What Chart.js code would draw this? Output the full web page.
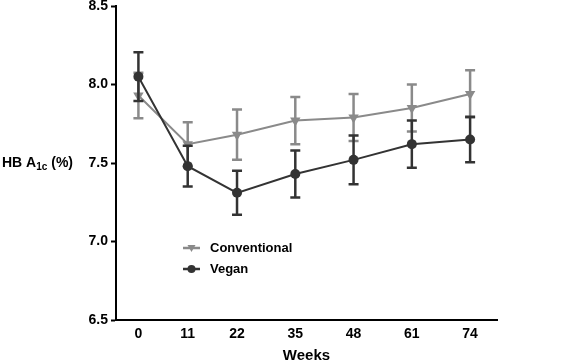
<!DOCTYPE html>
<html>
<head>
<meta charset="utf-8">
<script src="https://cdn.jsdelivr.net/npm/chart.js@4"></script>
<style>
  html, body { margin: 0; padding: 0; background: #fff; }
  canvas { display: block; }
</style>
</head>
<body>
<canvas id="hbChart" width="565" height="363"></canvas>
<script>
// weeks since start
const weeks = [0, 11, 22, 35, 48, 61, 74];
const conventional = [7.93, 7.62, 7.68, 7.77, 7.79, 7.85, 7.94];
const conventionalErr = [0.145, 0.14, 0.16, 0.15, 0.15, 0.15, 0.15];
const vegan = [8.05, 7.48, 7.31, 7.43, 7.52, 7.62, 7.65];
const veganErr = [0.155, 0.13, 0.14, 0.15, 0.155, 0.15, 0.145];
const yTicks = [6.5, 7.0, 7.5, 8.0, 8.5];

const GRAY = '#8a8a8a';
const DARK = '#333333';
const FONT = 'Arial, "Liberation Sans", sans-serif';

function toPoints(vals) {
  return weeks.map((w, i) => ({ x: w, y: vals[i] }));
}

// vertical error bars with caps, drawn under the markers
const errorBars = {
  id: 'errorBars',
  beforeDatasetDraw(chart, args) {
    const ds = chart.data.datasets[args.index];
    if (!ds.errors) return;
    const ctx = chart.ctx;
    const xs = chart.scales.x, ys = chart.scales.y;
    ctx.save();
    ctx.strokeStyle = ds.borderColor;
    ctx.lineWidth = 2.5;
    ds.data.forEach((p, i) => {
      const x = xs.getPixelForValue(p.x);
      const yt = ys.getPixelForValue(p.y + ds.errors[i]);
      const yb = ys.getPixelForValue(p.y - ds.errors[i]);
      ctx.beginPath();
      ctx.moveTo(x, yt); ctx.lineTo(x, yb);
      ctx.moveTo(x - 5, yt); ctx.lineTo(x + 5, yt);
      ctx.moveTo(x - 5, yb); ctx.lineTo(x + 5, yb);
      ctx.stroke();
    });
    ctx.restore();
  }
};

// y axis title with subscript, plus legend inside the plot
const extras = {
  id: 'extras',
  afterDraw(chart) {
    const ctx = chart.ctx;
    const a = chart.chartArea;
    ctx.save();
    ctx.fillStyle = '#000';
    ctx.textBaseline = 'alphabetic';
    let x = 2;
    const base = (a.top + a.bottom) / 2 + 4;
    ctx.font = 'bold 14px ' + FONT;
    ctx.fillText('HB A', x, base);
    x += ctx.measureText('HB A').width;
    ctx.font = 'bold 10px ' + FONT;
    ctx.fillText('1c', x, base + 3);
    x += ctx.measureText('1c').width;
    ctx.font = 'bold 14px ' + FONT;
    ctx.fillText(' (%)', x, base);

    // legend
    const items = chart.data.datasets.slice().sort((p, q) => p.legendRank - q.legendRank);
    ctx.font = 'bold 13px ' + FONT;
    ctx.textBaseline = 'middle';
    items.forEach((ds, i) => {
      const lx = a.left + 67;
      const ly = a.top + 242 + i * 21;
      ctx.strokeStyle = ds.borderColor;
      ctx.lineWidth = 2.5;
      ctx.beginPath();
      ctx.moveTo(lx, ly); ctx.lineTo(lx + 17, ly);
      ctx.stroke();
      ctx.fillStyle = ds.borderColor;
      ctx.beginPath();
      if (ds.pointStyle === 'circle') {
        ctx.arc(lx + 8.5, ly, 4, 0, Math.PI * 2);
      } else {
        ctx.moveTo(lx + 4.5, ly - 3);
        ctx.lineTo(lx + 12.5, ly - 3);
        ctx.lineTo(lx + 8.5, ly + 4);
        ctx.closePath();
      }
      ctx.fill();
      ctx.fillStyle = '#000';
      ctx.fillText(ds.label, lx + 27, ly);
    });
    ctx.restore();
  }
};

new Chart(document.getElementById('hbChart').getContext('2d'), {
  type: 'line',
  data: {
    datasets: [
      {
        label: 'Vegan',
        data: toPoints(vegan),
        errors: veganErr,
        legendRank: 1,
        borderColor: DARK,
        backgroundColor: DARK,
        borderWidth: 2,
        pointStyle: 'circle',
        pointRadius: 5,
        pointBorderWidth: 0,
        tension: 0,
        order: 0
      },
      {
        label: 'Conventional',
        data: toPoints(conventional),
        errors: conventionalErr,
        legendRank: 0,
        borderColor: GRAY,
        backgroundColor: GRAY,
        borderWidth: 2,
        pointStyle: 'triangle',
        pointRotation: 180,
        pointRadius: 6,
        pointBorderWidth: 0,
        tension: 0,
        order: 1
      }
    ]
  },
  options: {
    responsive: false,
    devicePixelRatio: 1,
    animation: false,
    layout: { padding: { left: 0, right: 68, top: 6, bottom: 0 } },
    plugins: {
      legend: { display: false },
      tooltip: { enabled: false }
    },
    scales: {
      x: {
        type: 'linear',
        min: -5,
        max: 80,
        afterBuildTicks(scale) {
          scale.ticks = weeks.map(w => ({ value: w }));
        },
        afterFit(scale) { scale.height = 43; },
        grid: { display: false, drawTicks: false },
        border: { display: true, color: '#000', width: 2 },
        ticks: {
          color: '#000',
          padding: 6,
          maxRotation: 0,
          font: { family: FONT, size: 14, weight: 'bold' }
        },
        title: {
          display: true,
          text: 'Weeks',
          color: '#000',
          padding: { top: 2, bottom: 0 },
          font: { family: FONT, size: 15, weight: 'bold', lineHeight: 1 }
        }
      },
      y: {
        min: 6.5,
        max: 8.5,
        afterBuildTicks(scale) {
          scale.ticks = yTicks.map(v => ({ value: v }));
        },
        afterFit(scale) {
          scale.width = 116;
          scale.paddingTop = 0;
          scale.paddingBottom = 0;
        },
        grid: {
          display: true,
          drawOnChartArea: false,
          drawTicks: true,
          tickLength: 5,
          tickColor: '#000',
          tickWidth: 2
        },
        border: { display: true, color: '#000', width: 2 },
        ticks: {
          color: '#000',
          padding: 3,
          callback: v => Number(v).toFixed(1),
          font: { family: FONT, size: 14, weight: 'bold' }
        }
      }
    }
  },
  plugins: [errorBars, extras]
});
</script>
</body>
</html>
